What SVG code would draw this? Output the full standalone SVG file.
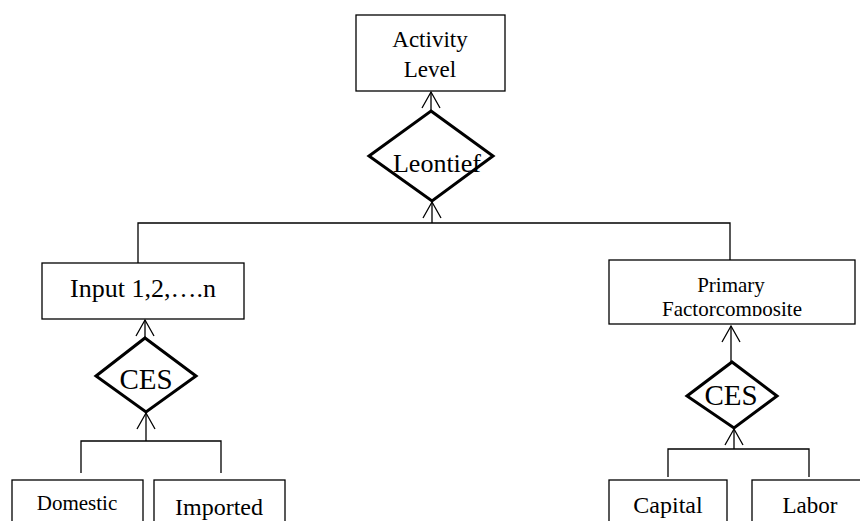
<svg xmlns="http://www.w3.org/2000/svg" width="860" height="521" viewBox="0 0 860 521">
<style>
.box{fill:#fff;stroke:#000;stroke-width:1.3}
.dia{fill:#fff;stroke:#000;stroke-width:3;stroke-linejoin:miter}
.ln{fill:none;stroke:#000;stroke-width:1.3}
.arr{fill:none;stroke:#000;stroke-width:1.3;marker-end:url(#chev)}
text{font-family:"Liberation Serif","Times New Roman",serif;fill:#000}
</style>
<defs>
<marker id="chev" markerUnits="userSpaceOnUse" viewBox="-18 -10 20 20" refX="0" refY="0" markerWidth="20" markerHeight="20" orient="auto">
<path d="M-16,-9 L0,0 L-16,9" fill="none" stroke="#000" stroke-width="1.3"/>
</marker>
<clipPath id="clipPrim"><rect x="610" y="261" width="244" height="55"/></clipPath>
</defs>
<rect width="860" height="521" fill="#fff"/>
<g id="connectors">
<line class="arr" x1="431" y1="111" x2="431" y2="92"/>
<polyline class="ln" points="138,263 138,223 730,223 730,260"/>
<line class="arr" x1="432" y1="223" x2="432" y2="202"/>
<line class="arr" x1="145" y1="338" x2="145" y2="320"/>
<polyline class="ln" points="81,473 81,441 221,441 221,473"/>
<line class="arr" x1="146" y1="441" x2="146" y2="413"/>
<line class="arr" x1="731" y1="362" x2="731" y2="326"/>
<polyline class="ln" points="668,477 668,449 809,449 809,477"/>
<line class="arr" x1="734" y1="449" x2="734" y2="429"/>
</g>
<g id="activity">
<rect class="box" x="356" y="15" width="149" height="76"/>
<text x="430" y="47" font-size="23" text-anchor="middle">Activity</text>
<text x="430" y="77" font-size="23" text-anchor="middle">Level</text>
</g>
<g id="leontief">
<polygon class="dia" points="431,111 493,156 432,201 369,156"/>
<text x="437" y="172" font-size="26" text-anchor="middle">Leontief</text>
</g>
<g id="input">
<rect class="box" x="42" y="263" width="202" height="56"/>
<text x="143" y="297" font-size="26" text-anchor="middle">Input 1,2,….n</text>
</g>
<g id="primary">
<rect class="box" x="609" y="260" width="246" height="64"/>
<g clip-path="url(#clipPrim)">
<text x="731" y="292" font-size="21" text-anchor="middle">Primary</text>
<text x="732" y="316" font-size="21" text-anchor="middle">Factorcomposite</text>
</g>
</g>
<g id="ces-left">
<polygon class="dia" points="145,338 196,376 146,412 96,376"/>
<text x="146" y="389" font-size="29" text-anchor="middle">CES</text>
</g>
<g id="ces-right">
<polygon class="dia" points="732,362 777,396 734,428 687,396"/>
<text x="731" y="405" font-size="29" text-anchor="middle">CES</text>
</g>
<g id="domestic">
<rect class="box" x="12" y="480" width="131" height="50"/>
<text x="77" y="510" font-size="21" text-anchor="middle">Domestic</text>
</g>
<g id="imported">
<rect class="box" x="154" y="480" width="131" height="50"/>
<text x="219" y="515" font-size="24" text-anchor="middle">Imported</text>
</g>
<g id="capital">
<rect class="box" x="609" y="480" width="118" height="50"/>
<text x="668" y="513" font-size="24" text-anchor="middle">Capital</text>
</g>
<g id="labor">
<rect class="box" x="752" y="480" width="120" height="50"/>
<text x="810" y="513" font-size="23" text-anchor="middle">Labor</text>
</g>
</svg>
